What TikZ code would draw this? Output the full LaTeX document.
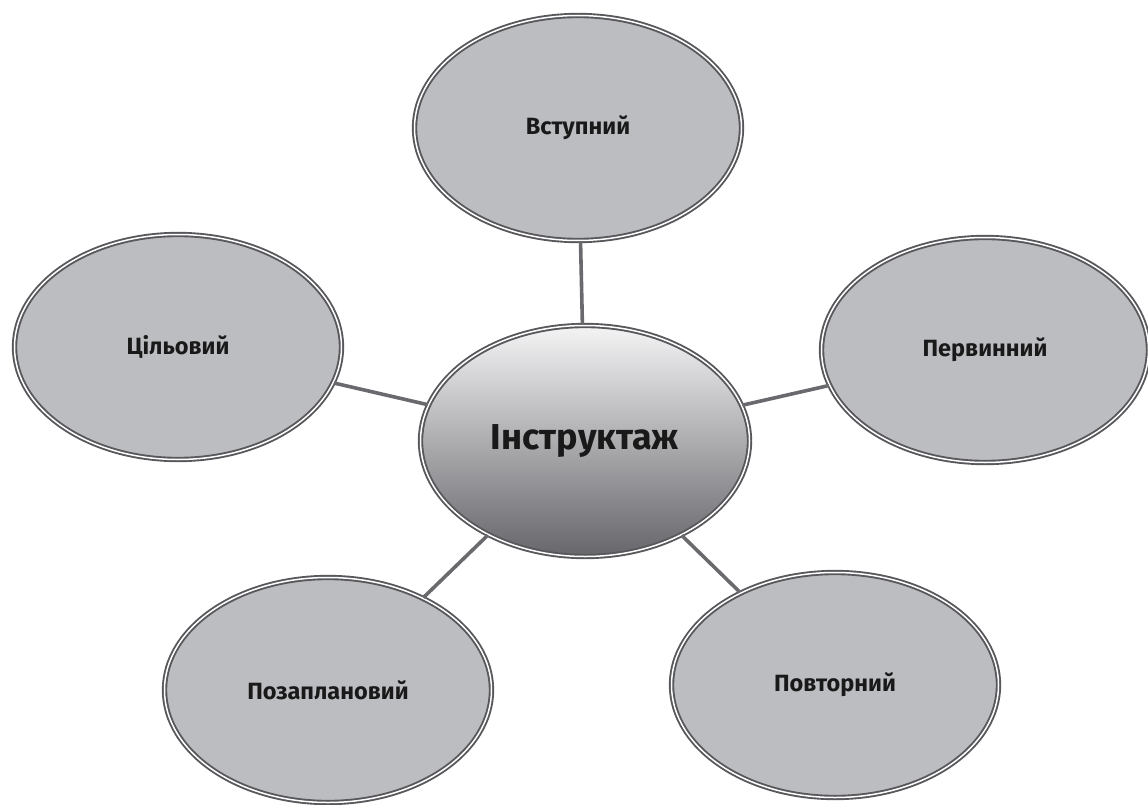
\documentclass[tikz,border=0pt]{standalone}
\usepackage{fontspec}
\setmainfont{Fira Sans}
\usepackage{tikz}
\usetikzlibrary{shapes.geometric,positioning}
\usepackage{xcolor}
\definecolor{ovalfill}{HTML}{BCBDC1}
\definecolor{ovalline}{HTML}{58585C}
\definecolor{linkgray}{HTML}{6A6A6E}
\definecolor{hubtop}{HTML}{F4F4F5}
\definecolor{hubbot}{HTML}{66666B}

\begin{document}
\begin{tikzpicture}[x=1pt, y=-1pt,
    oval/.style={ellipse, draw=ovalline, double=white, double distance=1.5pt, line width=1.9pt,
                 fill=ovalfill, minimum width=327pt, minimum height=225pt, inner sep=0pt,
                 font=\bfseries\fontsize{23.5}{27}\selectfont, text=black!90},
    hub/.style={oval, top color=hubtop, bottom color=hubbot, minimum width=329pt, minimum height=231pt,
                font=\bfseries\fontsize{36}{42}\selectfont},
    link/.style={draw=linkgray, line width=3.6pt}
]
\useasboundingbox (0,0) rectangle (1148,805);

\node[hub] (hub) at (585,441) {Інструктаж};
\node[oval] (entry) at (578,128) {Вступний};
\node[oval] (first) at (985,350) {Первинний};
\node[oval] (target) at (178,347) {Цільовий};
\node[oval] (unplan) at (328,690) {Позаплановий};
\node[oval] (repeat) at (835,685) {Повторний};

\draw[link] (hub) -- (entry);
\draw[link] (hub) -- (first);
\draw[link] (hub) -- (target);
\draw[link] (hub) -- (unplan);
\draw[link] (hub) -- (repeat);
\end{tikzpicture}
\end{document}
